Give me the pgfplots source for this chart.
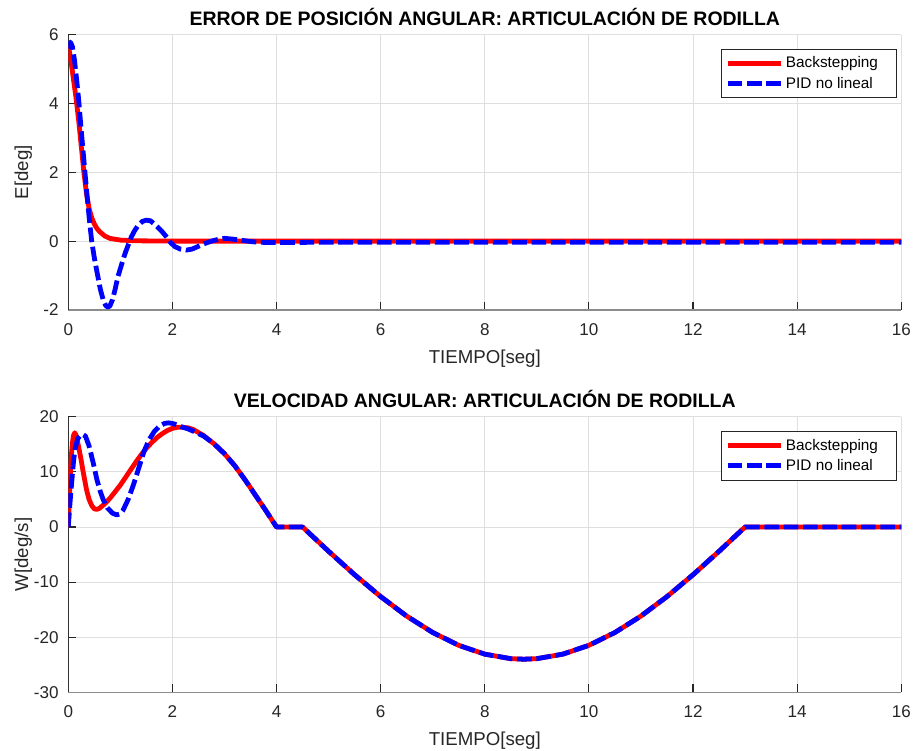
\documentclass[border=0pt]{standalone}
\usepackage{pgfplots}
\pgfplotsset{compat=1.18}
\usepackage{pgfplotstable}
\usepackage{fontspec}
\setmainfont{Liberation Sans}

\pgfplotstableread{
t E
0 5.7
0.05 5.25
0.1 4.7
0.15 4.15
0.2 3.5
0.25 2.75
0.3 2.0
0.35 1.38
0.4 0.95
0.45 0.68
0.5 0.5
0.55 0.37
0.6 0.28
0.7 0.15
0.8 0.08
1.0 0.03
1.3 0.01
2.0 0
16 0
}\errred

\pgfplotstableread{
t E
0 5.6
0.04 5.78
0.08 5.65
0.12 5.25
0.16 4.7
0.2 4.1
0.25 3.2
0.3 2.35
0.35 1.5
0.4 0.7
0.45 0.0
0.5 -0.48
0.57 -1.04
0.62 -1.42
0.67 -1.7
0.72 -1.87
0.76 -1.92
0.8 -1.88
0.85 -1.7
0.9 -1.4
0.95 -1.05
1.0 -0.8
1.05 -0.55
1.1 -0.32
1.15 -0.12
1.21 0.12
1.28 0.32
1.35 0.47
1.42 0.57
1.5 0.61
1.58 0.59
1.65 0.5
1.72 0.4
1.8 0.28
1.9 0.1
1.97 -0.05
2.05 -0.16
2.15 -0.23
2.27 -0.26
2.38 -0.23
2.5 -0.15
2.62 -0.07
2.75 0.0
2.9 0.06
3.0 0.08
3.15 0.06
3.35 0.02
3.55 -0.02
3.8 -0.04
4.2 -0.04
5 -0.03
16 -0.03
}\errblue

\pgfplotstableread{
t W
0 0
0.02 5
0.04 9.5
0.06 13
0.08 15.3
0.1 16.6
0.125 17.1
0.15 16.7
0.2 14.5
0.25 12.0
0.29 9.8
0.35 6.8
0.4 5.0
0.45 3.9
0.5 3.3
0.55 3.2
0.6 3.4
0.7 4.2
0.8 5.2
0.9 6.4
1.0 7.6
1.1 9.0
1.2 10.4
1.3 11.8
1.4 13.1
1.5 14.3
1.6 15.3
1.7 16.2
1.8 16.9
1.9 17.5
2.0 17.9
2.1 18.1
2.2 18.1
2.3 18.0
2.4 17.7
2.6 16.6
2.8 15.1
3.0 13.3
3.2 11.1
3.4 8.5
3.6 5.7
3.8 2.9
4.0 0
4.5 0
5.0 -4.41
5.5 -8.67
6.0 -12.63
6.5 -16.17
7.0 -19.15
7.5 -21.48
8.0 -23.08
8.5 -23.90
8.75 -24.0
9.0 -23.90
9.5 -23.08
10.0 -21.48
10.5 -19.15
11.0 -16.17
11.5 -12.63
12.0 -8.67
12.5 -4.41
13.0 0
16 0
}\velred

\pgfplotstableread{
t W
0 0
0.03 4
0.065 8
0.1 11.8
0.13 14.2
0.18 16.0
0.23 16.6
0.28 16.8
0.33 16.5
0.4 14.7
0.48 11.6
0.55 8.6
0.62 6.3
0.67 5.0
0.75 3.5
0.85 2.5
0.93 2.2
1.0 2.4
1.05 3.0
1.15 5.0
1.25 7.6
1.35 10.6
1.45 13.6
1.55 15.8
1.65 17.3
1.75 18.3
1.85 18.8
1.92 18.9
2.0 18.8
2.1 18.5
2.2 18.1
2.3 17.8
2.4 17.4
2.6 16.5
2.8 15.1
3.0 13.3
3.2 11.1
3.4 8.5
3.6 5.7
3.8 2.9
4.0 0
4.5 0
5.0 -4.41
5.5 -8.67
6.0 -12.63
6.5 -16.17
7.0 -19.15
7.5 -21.48
8.0 -23.08
8.5 -23.90
8.75 -24.0
9.0 -23.90
9.5 -23.08
10.0 -21.48
10.5 -19.15
11.0 -16.17
11.5 -12.63
12.0 -8.67
12.5 -4.41
13.0 0
16 0
}\velblue

\pgfplotsset{
  mystyle/.style={
    scale only axis,
    width=624.75pt, height=206.6pt,
    xmin=0, xmax=16,
    xtick={0,2,...,16},
    axis x line*=bottom, axis y line*=left,
    x axis line style={black!45, line width=0.9pt, -},
    y axis line style={black!80, line width=0.8pt, -},
    tick align=inside,
    major tick length=6pt,
    tick style={black!85, line width=0.8pt},
    grid=major,
    major grid style={gray!25, line width=0.7pt},
    /pgf/number format/assume math mode=true,
    tick label style={font=\fontsize{12.8}{15}\selectfont, text=black!85},
    xticklabel style={anchor=base, yshift=-19pt},
    yticklabel style={anchor=east, inner sep=0pt, xshift=-7pt},
    title style={at={(axis description cs:0.5,1.004)}, anchor=base, font=\bfseries\fontsize{14.6}{17}\selectfont},
    xlabel style={at={(axis description cs:0.5,-0.195)}, anchor=base, font=\fontsize{14}{17}\selectfont, text=black!85},
    ylabel style={at={(axis description cs:-0.0483,0.5)}, anchor=base, font=\fontsize{14}{17}\selectfont, text=black!85},
    legend style={at={(axis description cs:0.995,0.949)}, anchor=north east,
      draw=black!85, line width=0.6pt, fill=white,
      font=\fontsize{11.5}{13.5}\selectfont,
      inner xsep=3pt, inner ysep=4.8pt, row sep=3.3pt,
      nodes={inner xsep=2pt, inner ysep=1pt}},
    legend cell align=left,
    legend image code/.code={\draw[##1] (0pt,0pt) -- (40pt,0pt);},
  },
  redline/.style={red, line width=3.6pt, line join=round},
  blueline/.style={blue, line width=3.6pt, dash pattern=on 11pt off 3.5pt, line join=round},
}

\begin{document}
\begin{tikzpicture}
\begin{axis}[mystyle, at={(0pt,286.7pt)}, anchor=south west,
  ymin=-2, ymax=6, ytick={-2,0,...,6},
  title={ERROR DE POSICIÓN ANGULAR: ARTICULACIÓN DE RODILLA},
  xlabel={TIEMPO[seg]}, ylabel={E[deg]}]
\addplot[redline] table[x=t,y=E] {\errred};
\addlegendentry{Backstepping\hspace*{9pt}}
\addplot[blueline] table[x=t,y=E] {\errblue};
\addlegendentry{PID no lineal\hspace*{9pt}}
\end{axis}

\begin{axis}[mystyle, at={(0pt,0pt)}, anchor=south west,
  ymin=-30, ymax=20, ytick={-30,-20,...,20},
  title={VELOCIDAD ANGULAR: ARTICULACIÓN DE RODILLA},
  xlabel={TIEMPO[seg]}, ylabel={W[deg/s]}]
\addplot[redline] table[x=t,y=W] {\velred};
\addlegendentry{Backstepping\hspace*{9pt}}
\addplot[blueline] table[x=t,y=W] {\velblue};
\addlegendentry{PID no lineal\hspace*{9pt}}
\end{axis}

\pgfresetboundingbox
\path[use as bounding box] (-51.2pt,-44pt) rectangle (634.3pt,519.2pt);
\end{tikzpicture}
\end{document}
